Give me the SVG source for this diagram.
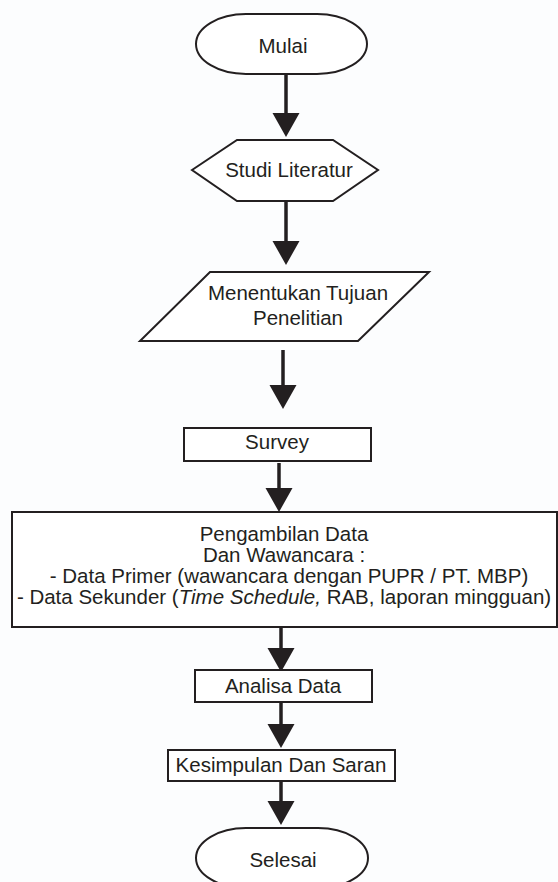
<svg xmlns="http://www.w3.org/2000/svg" width="558" height="882" viewBox="0 0 558 882">
<style>
.shape{fill:#ffffff;stroke:#231f20;stroke-width:2}
.t{font-family:"Liberation Sans",Arial,sans-serif;font-size:20.5px;fill:#231f20;text-anchor:middle}
.c{stroke:#231f20;stroke-width:3.5;fill:none}
</style>
<defs>
<marker id="ah" markerUnits="userSpaceOnUse" markerWidth="26" markerHeight="28" refX="0" refY="13.5" orient="auto" viewBox="0 0 26 28">
<path d="M0,0 L24,13.5 L0,27 Z" fill="#231f20"/>
</marker>
</defs>
<rect width="558" height="882" fill="#fcfdfe"/>
<g id="connectors">
<line class="c" x1="286" y1="74" x2="286" y2="113" marker-end="url(#ah)"/>
<line class="c" x1="286" y1="201" x2="286" y2="241" marker-end="url(#ah)"/>
<line class="c" x1="283" y1="350" x2="283" y2="385" marker-end="url(#ah)"/>
<line class="c" x1="279" y1="463" x2="279" y2="488" marker-end="url(#ah)"/>
<line class="c" x1="281" y1="627" x2="281" y2="648" marker-end="url(#ah)"/>
<line class="c" x1="281" y1="702" x2="281" y2="724" marker-end="url(#ah)"/>
<line class="c" x1="281" y1="781" x2="281" y2="801" marker-end="url(#ah)"/>
</g>
<g id="mulai">
<rect class="shape" x="196" y="14" width="171" height="60" rx="50" ry="30"/>
<text class="t" x="283" y="53">Mulai</text>
</g>
<g id="studi-literatur">
<polygon class="shape" points="192,170 237,140 333,140 378,170 333,201 237,201"/>
<text class="t" x="289" y="177">Studi Literatur</text>
</g>
<g id="menentukan-tujuan">
<polygon class="shape" points="210,272 429,272 358,341 140,341"/>
<text class="t" x="298" y="300">Menentukan Tujuan</text>
<text class="t" x="298" y="325">Penelitian</text>
</g>
<g id="survey">
<rect class="shape" x="184" y="428" width="187" height="33"/>
<text class="t" x="277" y="449">Survey</text>
</g>
<g id="pengambilan-data">
<rect class="shape" x="12" y="512" width="545" height="115"/>
<text class="t" x="284" y="541">Pengambilan Data</text>
<text class="t" x="284" y="562">Dan Wawancara :</text>
<text class="t" x="289" y="583">- Data Primer (wawancara dengan PUPR / PT. MBP)</text>
<text class="t" x="284" y="604">- Data Sekunder (<tspan font-style="italic">Time Schedule,</tspan> RAB, laporan mingguan)</text>
</g>
<g id="analisa-data">
<rect class="shape" x="195" y="670" width="177" height="32"/>
<text class="t" x="283" y="693">Analisa Data</text>
</g>
<g id="kesimpulan">
<rect class="shape" x="168" y="750" width="227" height="31"/>
<text class="t" x="281" y="772">Kesimpulan Dan Saran</text>
</g>
<g id="selesai">
<rect class="shape" x="196" y="828" width="172" height="60" rx="50" ry="30"/>
<text class="t" x="283" y="867">Selesai</text>
</g>
</svg>
